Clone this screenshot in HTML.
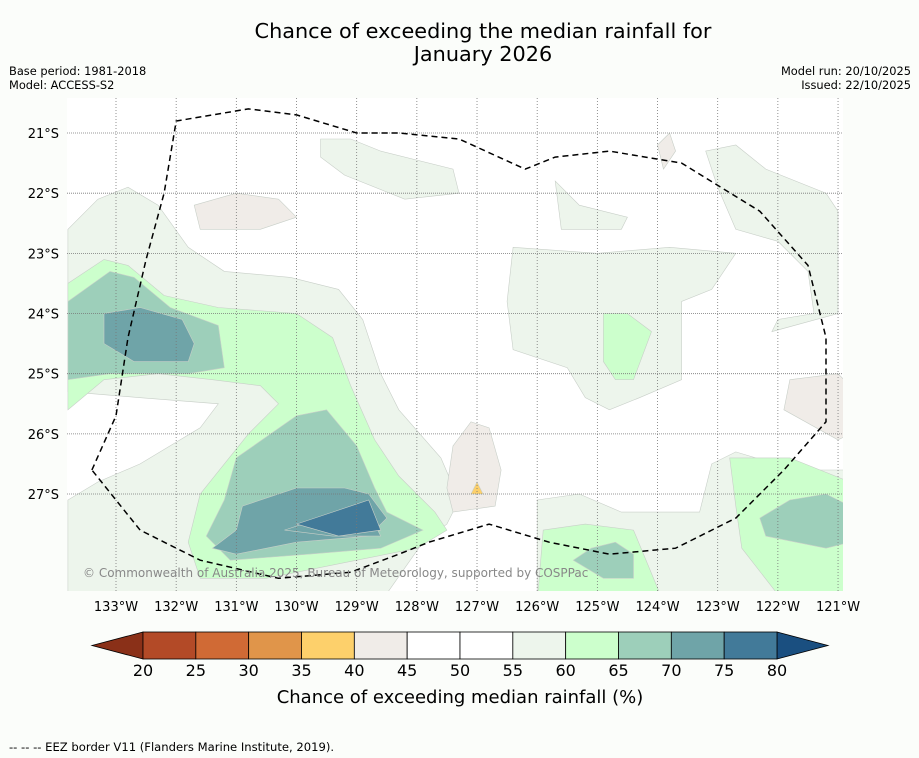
<!DOCTYPE html>
<html><head><meta charset="utf-8"><style>
body{margin:0;background:#fbfdfa;font-family:"Liberation Sans","DejaVu Sans",sans-serif;}
#wrap{position:relative;width:919px;height:758px;overflow:hidden;background:#fbfdfa;}
</style></head><body>
<div id="wrap">
<svg id="svg" width="919" height="758" xmlns="http://www.w3.org/2000/svg">
<text x="483" y="38" font-size="20.8" text-anchor="middle" font-family="DejaVu Sans, sans-serif">Chance of exceeding the median rainfall for</text>
<text x="483" y="61" font-size="20.8" text-anchor="middle" font-family="DejaVu Sans, sans-serif">January 2026</text>
<text x="9" y="75" font-size="11.4" font-family="DejaVu Sans, sans-serif">Base period: 1981-2018</text>
<text x="9" y="89" font-size="11.4" font-family="DejaVu Sans, sans-serif">Model: ACCESS-S2</text>
<text x="911" y="75" font-size="11.4" text-anchor="end" font-family="DejaVu Sans, sans-serif">Model run: 20/10/2025</text>
<text x="911" y="89" font-size="11.4" text-anchor="end" font-family="DejaVu Sans, sans-serif">Issued: 22/10/2025</text>
<defs><clipPath id="mapclip"><rect x="67" y="98" width="776" height="493"/></clipPath></defs>
<g id="map" clip-path="url(#mapclip)">
<rect x="67" y="98" width="776" height="493" fill="#ffffff"/>
<g id="contours"></g>
<g id="grid"></g>
<path id="eez" fill="none" stroke="#000" stroke-width="1.5" stroke-dasharray="6,4"/>
<text x="83" y="577" font-size="12" fill="#888" font-family="DejaVu Sans, sans-serif">© Commonwealth of Australia 2025, Bureau of Meteorology, supported by COSPPac</text>
</g>
<g id="axes"></g>
<g id="cbar"></g>
<text x="460" y="703" font-size="18" text-anchor="middle" font-family="DejaVu Sans, sans-serif">Chance of exceeding median rainfall (%)</text>
<text x="9" y="751" font-size="11.6" font-family="DejaVu Sans, sans-serif">--  --  -- EEZ border V11 (Flanders Marine Institute, 2019).</text>
</svg>
</div>
<script>
const lonTicks=[133,132,131,130,129,128,127,126,125,124,123,122,121];
const latTicks=[21,22,23,24,25,26,27];
const levels=[20,25,30,35,40,45,50,55,60,65,70,75,80];
const levelColors=["#b34a27","#d06a35","#e0954a","#fdd06b","#f0ece8","#ffffff","#ffffff","#edf5ec","#ccffcc","#9dcfba","#6fa4a8","#427a99"];
const underColor="#8a3018", overColor="#1a4f80";
// contour shapes: [levelIndex, [[lon,lat],...]] (lon in °W, lat in °S)
const shapes=[
[7,[[133.8,22.6],[133.3,22.1],[132.8,21.9],[132.3,22.2],[131.8,22.9],[131.2,23.3],[130.1,23.4],[129.3,23.6],[128.9,24.1],[128.6,25.0],[128.3,25.6],[127.6,26.4],[127.3,27.1],[127.5,27.5],[127.9,27.8],[128.6,28.8],[130.5,28.8],[132.3,28.8],[133.8,28.8],[133.8,27.1],[133.3,26.8],[132.6,26.5],[131.6,25.9],[131.3,25.5],[132.6,25.4],[133.8,25.3]]],
[7,[[129.6,21.1],[129.1,21.1],[128.6,21.3],[127.4,21.6],[127.3,22.0],[128.2,22.1],[129.2,21.7],[129.6,21.4]]],
[7,[[125.7,21.8],[125.3,22.2],[124.5,22.4],[124.6,22.6],[125.6,22.6]]],
[7,[[123.2,21.3],[122.7,21.2],[122.2,21.6],[121.2,22.0],[121.0,22.3],[121.0,24.0],[122.1,24.3],[122.0,24.1],[121.4,24.0],[121.5,23.3],[122.0,22.8],[122.7,22.6],[123.0,21.9]]],
[7,[[126.4,22.9],[125.0,23.0],[123.8,22.9],[122.7,23.0],[123.1,23.6],[123.6,23.8],[123.6,25.1],[124.3,25.4],[124.8,25.6],[125.2,25.4],[125.5,24.9],[126.4,24.6],[126.5,23.8]]],
[7,[[126.0,28.8],[126.0,27.1],[125.3,27.0],[124.6,27.3],[123.3,27.3],[123.1,26.5],[122.7,26.3],[121.7,26.6],[120.8,26.6],[120.8,28.8]]],
[8,[[133.8,23.5],[133.2,23.1],[132.8,23.2],[132.2,23.7],[131.3,23.9],[130.0,24.0],[129.4,24.4],[129.1,25.2],[128.7,26.1],[128.3,26.7],[127.7,27.3],[127.5,27.6],[128.0,27.9],[129.0,28.1],[130.5,28.4],[131.6,28.4],[131.8,27.8],[131.6,27.0],[131.2,26.5],[130.8,26.0],[130.3,25.5],[130.6,25.2],[131.4,25.1],[132.3,25.0],[133.2,25.1],[133.8,25.6]]],
[8,[[124.9,24.0],[124.5,24.0],[124.1,24.3],[124.4,25.1],[124.7,25.1],[124.9,24.8]]],
[8,[[125.9,27.6],[125.2,27.5],[124.4,27.6],[123.9,28.8],[126.0,28.8]]],
[8,[[122.8,26.4],[121.8,26.4],[120.8,26.8],[120.8,28.8],[121.9,28.8],[122.6,27.9],[122.7,27.2]]],
[9,[[133.8,23.8],[133.1,23.3],[132.7,23.4],[132.1,23.9],[131.3,24.2],[131.2,24.9],[131.8,25.0],[133.1,25.0],[133.8,25.1]]],
[9,[[131.0,26.4],[130.0,25.7],[129.5,25.6],[129.0,26.2],[128.7,26.9],[128.5,27.3],[127.9,27.6],[128.6,27.9],[129.8,28.0],[131.1,28.1],[131.5,27.7],[131.2,27.1]]],
[9,[[121.8,27.1],[121.2,27.0],[120.8,27.2],[120.8,27.8],[121.2,27.9],[122.2,27.7],[122.3,27.4]]],
[9,[[125.1,27.9],[124.7,27.8],[124.4,28.0],[124.4,28.4],[124.9,28.4],[125.4,28.1]]],
[10,[[133.2,24.0],[132.6,23.9],[131.9,24.1],[131.7,24.5],[131.8,24.8],[132.7,24.8],[133.2,24.5]]],
[10,[[130.9,27.2],[130.0,26.9],[129.2,26.9],[128.8,27.0],[128.5,27.4],[128.8,27.7],[130.0,27.8],[131.0,28.0],[131.4,27.9],[131.0,27.6]]],
[10,[[130.2,27.6],[129.6,27.4],[128.8,27.3],[128.6,27.7],[129.4,27.7]]],
[11,[[130.0,27.5],[129.4,27.3],[128.8,27.1],[128.6,27.6],[129.3,27.7]]],
[4,[[131.7,22.2],[131.0,22.0],[130.3,22.1],[130.0,22.4],[130.6,22.6],[131.6,22.6]]],
[4,[[121.8,25.1],[121.0,25.0],[120.8,25.2],[120.8,26.0],[121.0,26.1],[121.9,25.6]]],
[4,[[127.4,26.2],[127.1,25.8],[126.8,25.9],[126.6,26.6],[126.7,27.2],[127.4,27.3],[127.5,26.9]]],
[3,[[127.0,26.8],[126.9,27.0],[127.1,27.0]]],
[4,[[124.0,21.2],[123.8,21.0],[123.7,21.3],[123.9,21.6]]]
];
const eezPts=[[133.4,26.6],[133.0,25.7],[132.8,24.4],[132.5,23.1],[132.2,22.0],[132.0,20.8],[130.8,20.6],[130.0,20.7],[129.0,21.0],[128.3,21.0],[127.3,21.1],[126.2,21.6],[125.7,21.4],[124.8,21.3],[123.6,21.5],[122.3,22.3],[121.5,23.2],[121.2,24.4],[121.2,25.8],[121.9,26.6],[122.7,27.4],[123.7,27.9],[124.8,28.0],[125.8,27.8],[126.8,27.5],[127.8,27.8],[128.3,28.0],[129.1,28.3],[130.3,28.4],[131.6,28.1],[132.6,27.6],[133.4,26.6]];
const NS="http://www.w3.org/2000/svg";
const X0=116,Y0=133,S=60.17;
function xs(lon){return X0+(133-lon)*S;}
function ys(lat){return Y0+(lat-21)*S;}
function mk(tag,attrs,parent){const e=document.createElementNS(NS,tag);for(const k in attrs)e.setAttribute(k,attrs[k]);parent.appendChild(e);return e;}
const cg=document.getElementById('contours');
shapes.forEach(s=>{
  const d='M'+s[1].map(p=>xs(p[0]).toFixed(1)+','+ys(p[1]).toFixed(1)).join('L')+'Z';
  const p=mk('path',{d:d,fill:levelColors[s[0]],stroke:'#c8cfc8','stroke-width':0.6},cg);
  
  
});
const gg=document.getElementById('grid');
lonTicks.forEach(l=>{const e=mk('line',{x1:xs(l),x2:xs(l),y1:98,y2:591,stroke:'#777','stroke-width':0.8,'stroke-dasharray':'1,2'},gg);
  });
latTicks.forEach(l=>{const e=mk('line',{x1:67,x2:843,y1:ys(l),y2:ys(l),stroke:'#777','stroke-width':0.8,'stroke-dasharray':'1,1'},gg);
  });
document.getElementById('eez').setAttribute('d','M'+eezPts.map(p=>xs(p[0]).toFixed(1)+','+ys(p[1]).toFixed(1)).join('L'));
const ag=document.getElementById('axes');
lonTicks.forEach(l=>{const t=mk('text',{x:xs(l),y:611,'font-size':13,'text-anchor':'middle','font-family':'DejaVu Sans, sans-serif'},ag);t.textContent=l+'°W';
  });
latTicks.forEach(l=>{const t=mk('text',{x:59,y:ys(l)+5,'font-size':13,'text-anchor':'end','font-family':'DejaVu Sans, sans-serif'},ag);t.textContent=l+'°S';
  });
const cb=document.getElementById('cbar');
const CX0=143,CX1=777,CY=632,CH=27;
function cx(v){return CX0+(v-levels[0])/(levels[levels.length-1]-levels[0])*(CX1-CX0);}
const l1=mk('path',{d:`M${CX0},${CY}L92,${CY+CH/2}L${CX0},${CY+CH}Z`,fill:underColor,stroke:'#000','stroke-width':0.8},cb);

const r1=mk('path',{d:`M${CX1},${CY}L828,${CY+CH/2}L${CX1},${CY+CH}Z`,fill:overColor,stroke:'#000','stroke-width':0.8},cb);

levelColors.forEach((c,i)=>{const r=mk('rect',{x:cx(levels[i]),y:CY,width:cx(levels[i+1])-cx(levels[i]),height:CH,fill:c,stroke:'#000','stroke-width':0.8},cb);
  });
levels.forEach(v=>{const t=mk('text',{x:cx(v),y:676,'font-size':16,'text-anchor':'middle','font-family':'DejaVu Sans, sans-serif'},cb);t.textContent=v;
  });
</script>
</body></html>
